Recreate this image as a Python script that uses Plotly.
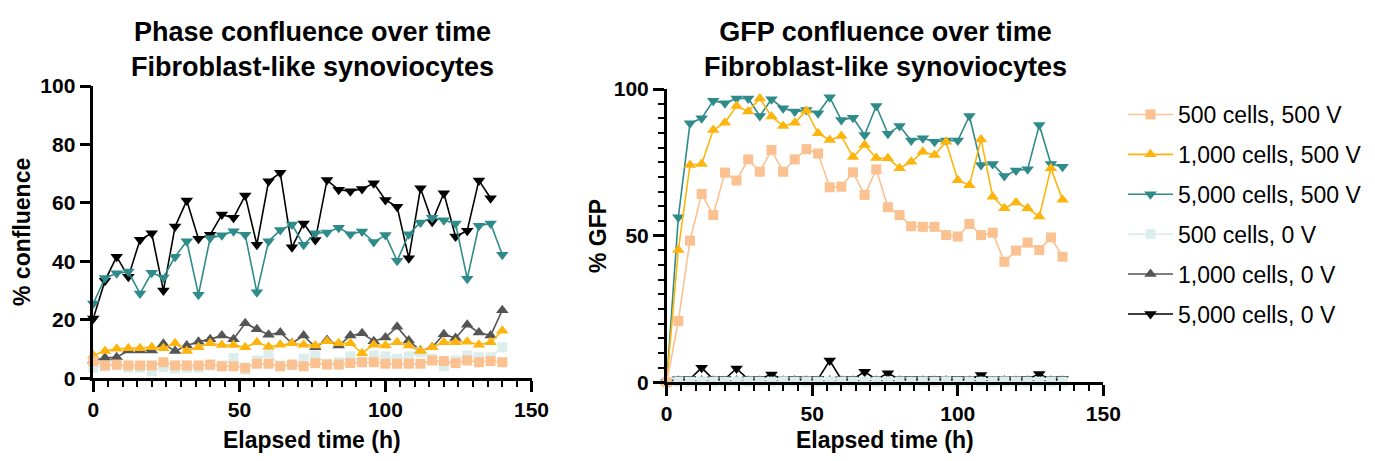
import plotly.graph_objects as go

# ---------------- data ----------------
series_names = [
    "500 cells, 500 V",
    "1,000 cells, 500 V",
    "5,000 cells, 500 V",
    "500 cells, 0 V",
    "1,000 cells, 0 V",
    "5,000 cells, 0 V",
]

# Phase confluence (left panel), elapsed time in hours
time_phase = list(range(0, 141, 4))
time_phase_5000_0v = list(range(0, 137, 4))

phase_500_500v = [5.9, 4.4, 4.7, 4.4, 4.4, 4.4, 5.5, 4.4, 4.4, 4.4, 4.7, 4.1, 4.1, 3.6, 5.0, 5.0, 4.1, 4.7,
                  4.1, 5.2, 4.7, 4.7, 5.2, 5.5, 5.5, 5.0, 5.0, 5.0, 5.0, 6.1, 5.9, 5.2, 6.1, 5.5, 5.9, 5.5]
phase_1000_500v = [7.8, 9.3, 10.1, 10.3, 10.3, 10.6, 10.3, 12.0, 9.3, 10.6, 12.0, 11.4, 11.4, 10.6, 12.3, 10.8,
                   11.5, 12.0, 11.5, 11.2, 12.7, 12.0, 12.0, 8.6, 11.5, 11.2, 12.3, 11.2, 9.3, 10.6, 12.3, 12.3,
                   12.5, 11.5, 12.3, 16.3]
phase_5000_500v = [25.6, 34.3, 35.9, 36.5, 29.0, 36.1, 34.5, 41.6, 46.9, 28.6, 48.0, 48.9, 50.3, 49.1, 29.4,
                   46.9, 50.7, 52.6, 45.7, 49.6, 49.9, 51.5, 49.3, 50.2, 46.6, 49.0, 40.2, 49.3, 53.3, 54.9,
                   54.1, 53.0, 34.1, 52.2, 53.0, 42.3]
phase_500_0v = [3.6, 4.1, 4.4, 3.6, 3.6, 2.5, 3.8, 3.3, 3.6, 3.6, 4.4, 4.4, 7.0, 2.9, 6.1, 8.6, 4.4, 4.4,
                6.7, 7.8, 5.0, 5.5, 7.5, 5.5, 7.8, 7.5, 6.7, 7.5, 8.9, 6.7, 4.1, 6.1, 7.8, 7.2, 7.2, 10.6]
phase_1000_0v = [6.1, 7.0, 7.2, 9.5, 9.5, 9.5, 11.8, 9.3, 11.2, 12.5, 13.4, 14.6, 13.4, 18.8, 16.8, 14.9,
                 15.7, 12.0, 14.6, 10.6, 13.1, 11.2, 14.6, 15.4, 12.7, 14.0, 17.6, 12.9, 9.5, 10.6, 15.1,
                 13.8, 18.3, 15.7, 14.6, 23.3]
phase_5000_0v = [20.5, 33.4, 41.6, 34.7, 47.4, 49.6, 30.0, 51.9, 60.8, 47.7, 49.1, 56.0, 54.9, 62.5, 45.7,
                 67.4, 70.3, 44.8, 53.0, 47.3, 67.8, 64.5, 64.0, 64.8, 66.7, 61.0, 58.7, 41.1, 65.0, 53.6,
                 63.3, 48.5, 50.5, 67.7, 61.6]

# GFP confluence (right panel)
time_gfp = list(range(0, 137, 4))

gfp_500_500v = [0, 20.9, 48.3, 64.2, 57.0, 71.5, 68.8, 76.0, 71.8, 79.2, 71.8, 76.0, 79.5, 78.0, 66.5, 66.7,
                71.6, 63.9, 72.6, 59.7, 57.0, 53.2, 53.0, 53.0, 50.2, 49.7, 54.0, 50.2, 51.0, 41.1, 44.9,
                47.6, 45.1, 49.4, 42.8]
gfp_1000_500v = [0, 45.1, 74.1, 74.4, 86.0, 88.5, 94.2, 92.3, 96.8, 90.6, 87.4, 88.5, 92.6, 84.9, 82.6, 84.0,
                 76.8, 80.9, 76.5, 76.4, 73.0, 75.2, 78.6, 77.5, 82.0, 68.9, 67.2, 82.8, 63.3, 59.3, 61.3,
                 59.3, 56.5, 73.0, 62.2]
gfp_5000_500v = [0, 56.3, 88.3, 90.0, 96.0, 95.1, 96.8, 96.8, 90.8, 96.5, 93.4, 92.3, 92.8, 91.7, 97.2, 89.4,
                 90.2, 84.3, 94.2, 84.7, 87.4, 82.4, 83.2, 82.0, 82.4, 82.4, 90.8, 74.1, 74.4, 70.3, 72.2,
                 72.6, 87.7, 74.4, 73.5]
gfp_500_0v = [0, 0.2, 0.2, 0.3, 0.2, 0.2, 0.3, 0.2, 0.2, 0.2, 0.3, 0.2, 0.2, 0.2, 0.3, 0.2, 0.2, 0.2,
              0.2, 0.3, 0.2, 0.2, 0.2, 0.2, 0.3, 0.2, 0.2, 0.2, 0.2, 0.3, 0.2, 0.2, 0.2, 0.2, 0.2]
gfp_1000_0v = [0, 0.5, 0.4, 0.6, 0.5, 0.4, 0.6, 0.5, 0.5, 0.4, 0.5, 0.6, 0.5, 0.4, 0.6, 0.5, 0.5, 0.4,
               0.5, 0.6, 0.5, 0.4, 0.5, 0.5, 0.6, 0.4, 0.5, 0.5, 0.4, 0.6, 0.5, 0.5, 0.4, 0.5, 0.5]
gfp_5000_0v = [0, 1.0, 1.1, 5.0, 1.0, 1.1, 4.7, 1.0, 1.1, 2.7, 1.0, 1.1, 1.0, 1.1, 7.4, 1.0, 1.1, 3.6,
               1.0, 3.1, 1.0, 1.1, 1.0, 1.1, 1.0, 1.1, 1.0, 2.5, 1.0, 1.1, 1.0, 1.1, 2.8, 1.0, 1.1]

# ---------------- styling ----------------
colors = ["#FBC191", "#FDB50E", "#2E8B8A", "#DCEEEC", "#555555", "#000000"]
symbols = ["square", "triangle-up", "triangle-down", "square", "triangle-up", "triangle-down"]
sizes = [10, 11, 11, 10, 11, 11]

phase_x = [time_phase, time_phase, time_phase, time_phase, time_phase, time_phase_5000_0v]
phase_y = [phase_500_500v, phase_1000_500v, phase_5000_500v, phase_500_0v, phase_1000_0v, phase_5000_0v]
gfp_y = [gfp_500_500v, gfp_1000_500v, gfp_5000_500v, gfp_500_0v, gfp_1000_0v, gfp_5000_0v]

FONT = "Liberation Sans, Arial, Helvetica, sans-serif"

fig = go.Figure()
# draw in reverse order so the first data set sits on top (as in the original)
for i in reversed(range(6)):
    fig.add_trace(go.Scatter(
        x=phase_x[i], y=phase_y[i], mode="lines+markers", name=series_names[i],
        line=dict(color=colors[i], width=1.6),
        marker=dict(symbol=symbols[i], size=sizes[i], color=colors[i], line=dict(width=0)),
        cliponaxis=False, showlegend=False, xaxis="x", yaxis="y",
    ))
for i in reversed(range(6)):
    fig.add_trace(go.Scatter(
        x=time_gfp, y=gfp_y[i], mode="lines+markers", name=series_names[i],
        line=dict(color=colors[i], width=1.6),
        marker=dict(symbol=symbols[i], size=sizes[i], color=colors[i], line=dict(width=0)),
        cliponaxis=False, showlegend=True, legendrank=i + 1, legendgroup=f"g{i}",
        xaxis="x2", yaxis="y2",
    ))

# the page body has an 8px margin; the figure is sized to fit the window after it
OFF = 8
W, H = 1375 - OFF, 461 - OFF


def px_x(p):
    return (p - OFF) / W


def px_y(p):
    return 1 - (p - OFF) / H


tickfont = dict(family=FONT, size=21, color="black", weight="bold")
common_axis = dict(
    showline=True, linewidth=2.5, linecolor="black", showgrid=False, zeroline=False,
    ticks="outside", ticklen=11, tickwidth=2.5, tickcolor="black", tickfont=tickfont,
    fixedrange=True, automargin=False,
)
minor = dict(ticks="outside", ticklen=6, tickwidth=2, tickcolor="black", dtick=5, showgrid=False)

fig.update_layout(
    template="none",
    width=W, height=H,
    margin=dict(l=0, r=0, t=0, b=0, pad=0, autoexpand=False),
    paper_bgcolor="white", plot_bgcolor="white",
    font=dict(family=FONT, color="black"),
    xaxis=dict(domain=[px_x(93.3), px_x(531.5)], range=[0, 150], tick0=0, dtick=50,
               minor=minor, anchor="y", **common_axis),
    yaxis=dict(domain=[px_y(378.3), px_y(86)], range=[0, 100], tick0=0, dtick=20,
               anchor="x", **common_axis),
    xaxis2=dict(domain=[px_x(666.7), px_x(1103.3)], range=[0, 150], tick0=0, dtick=50,
                minor=minor, anchor="y2", **common_axis),
    yaxis2=dict(domain=[px_y(382.3), px_y(89)], range=[0, 100], tick0=0, dtick=50,
                minor=minor, anchor="x2", **common_axis),
    legend=dict(
        x=px_x(1123), y=px_y(93), xanchor="left", yanchor="top",
        font=dict(family=FONT, size=23, color="black"),
        traceorder="grouped", tracegroupgap=7, itemwidth=45,
        bgcolor="rgba(0,0,0,0)",
    ),
    showlegend=True,
)

title_font = dict(family=FONT, size=27, color="black", weight="bold")
axis_title_font = dict(family=FONT, size=23, color="black", weight="bold")

annotations = [
    dict(text="Phase confluence over time<br>Fibroblast-like synoviocytes", x=px_x(312.4), y=px_y(49),
         font=title_font),
    dict(text="GFP confluence over time<br>Fibroblast-like synoviocytes", x=px_x(885), y=px_y(49),
         font=title_font),
    dict(text="Elapsed time (h)", x=px_x(312.4), y=px_y(440), font=axis_title_font),
    dict(text="Elapsed time (h)", x=px_x(885), y=px_y(440), font=axis_title_font),
    dict(text="% confluence", x=px_x(22), y=px_y(232), font=axis_title_font, textangle=-90),
    dict(text="% GFP", x=px_x(598), y=px_y(236), font=axis_title_font, textangle=-90),
]
for a in annotations:
    a.update(xref="paper", yref="paper", xanchor="center", yanchor="middle", showarrow=False)
fig.update_layout(annotations=annotations)

fig.write_html("out.html")
